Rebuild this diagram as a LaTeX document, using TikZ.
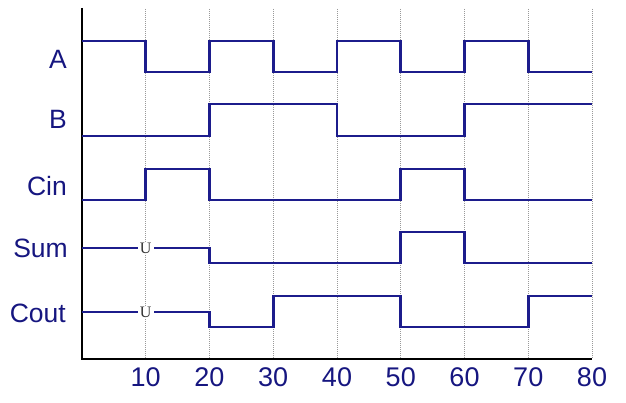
\documentclass[tikz,border=0pt]{standalone}
\usepackage{fontspec}
\setsansfont{Liberation Sans}
\newfontfamily\ufont{Liberation Serif}
\definecolor{sig}{RGB}{28,28,140}
\definecolor{lab}{RGB}{22,22,128}
\tikzset{
  sigline/.style={draw=sig, line width=2.8pt, line join=miter},
  gridline/.style={draw=gray!80, line width=0.7pt, dash pattern=on 1pt off 1pt},
  axisline/.style={draw=black, line width=2.6pt},
  siglabel/.style={anchor=east, text=lab, inner sep=0pt, font=\sffamily\fontsize{26.5}{26.5}\selectfont},
  ticklabel/.style={anchor=center, text=lab, inner sep=0pt, font=\sffamily\fontsize{27}{27}\selectfont},
  ulabel/.style={fill=white, inner xsep=2pt, inner ysep=0.5pt, text=black!80, font=\ufont\fontsize{16}{16}\selectfont}
}
\begin{document}
\begin{tikzpicture}[x=1pt,y=-1pt]
\useasboundingbox (0,0) rectangle (626,403);
\begin{scope}[x=6.375pt, y=-1pt, xshift=82pt]
  % grid
  \foreach \t in {10,20,...,80} {
    \coordinate (gt\t) at (\t,9);
    \coordinate (gb\t) at (\t,359);
    \draw[gridline] (gt\t) -- (gb\t);
  }
  % axes
  \coordinate (top) at (0,8);
  \coordinate (origin) at (0,359);
  \coordinate (xend) at (80,359);
  \draw[axisline] (top) -- (origin) -- (xend);
  % A
  \draw[sigline] (0,41) -- (10,41) -- (10,72) -- (20,72) -- (20,41) -- (30,41) -- (30,72) -- (40,72) -- (40,41) -- (50,41) -- (50,72) -- (60,72) -- (60,41) -- (70,41) -- (70,72) -- (80,72);
  % B
  \draw[sigline] (0,136) -- (20,136) -- (20,104) -- (40,104) -- (40,136) -- (60,136) -- (60,104) -- (80,104);
  % Cin
  \draw[sigline] (0,200) -- (10,200) -- (10,169) -- (20,169) -- (20,200) -- (50,200) -- (50,169) -- (60,169) -- (60,200) -- (80,200);
  % Sum
  \draw[sigline] (0,248) -- (20,248) -- (20,263) -- (50,263) -- (50,232) -- (60,232) -- (60,263) -- (80,263);
  \node[ulabel] (usum) at (10,248) {U};
  % Cout
  \draw[sigline] (0,312) -- (20,312) -- (20,327) -- (30,327) -- (30,296) -- (50,296) -- (50,327) -- (70,327) -- (70,296) -- (80,296);
  \node[ulabel] (ucout) at (10,312) {U};
  % tick labels
  \foreach \t in {10,20,...,80} {
    \node[ticklabel] (tl\t) at (\t,377) {\t};
  }
\end{scope}
\node[siglabel] (la) at (67,59) {A};
\node[siglabel] (lb) at (67,119) {B};
\node[siglabel] (lcin) at (67,186) {Cin};
\node[siglabel] (lsum) at (68,248) {Sum};
\node[siglabel] (lcout) at (66,313) {Cout};
\end{tikzpicture}
\end{document}
